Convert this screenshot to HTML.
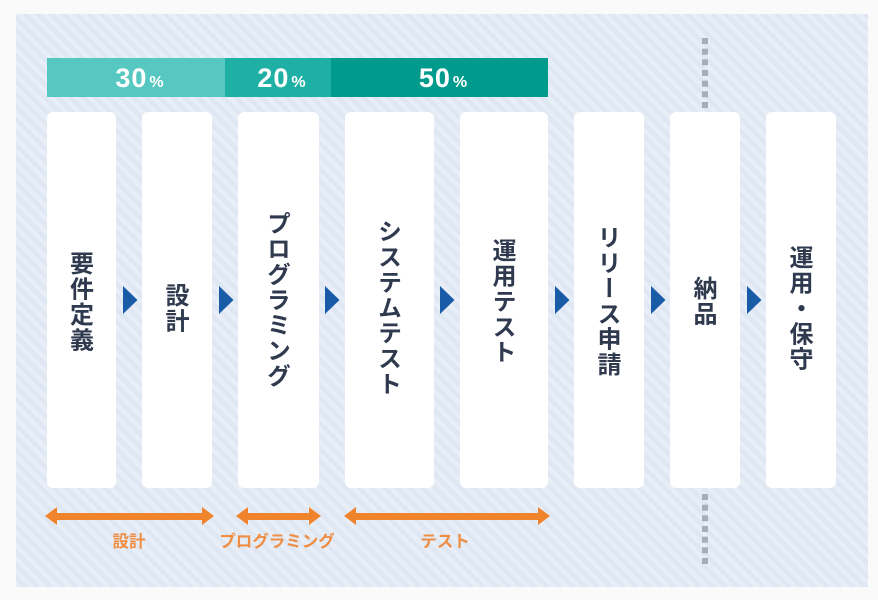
<!DOCTYPE html>
<html lang="ja"><head><meta charset="utf-8"><style>
html,body{margin:0;padding:0;background:#fafafa}
body{width:878px;height:600px;position:relative;overflow:hidden;font-family:"Liberation Sans","Noto Sans CJK JP",sans-serif}
.a{position:absolute}
#panel{left:16px;top:14px;width:852px;height:573px;background:#e6edf7;background-image:repeating-linear-gradient(45deg,#e8eef8 0,#e8eef8 4.5px,#dfe7f2 4.5px,#dfe7f2 9px)}
.bar{top:58px;height:39px;color:#fff;font-weight:700;font-size:27px;line-height:40px;text-align:center;letter-spacing:1px;font-family:"Liberation Sans",sans-serif;box-sizing:border-box;padding-left:7px}
.bar small{font-size:16px;letter-spacing:0;margin-left:2px}
.card{top:112px;height:376px;background:#fff;border-radius:6px;display:flex;align-items:center;justify-content:center}
.card span{position:relative;writing-mode:vertical-rl;text-orientation:upright;font-family:"Noto Sans CJK JP",sans-serif;font-weight:700;font-size:24px;letter-spacing:1.4px;line-height:1;color:#2f3a4f;white-space:nowrap}
.lab{top:530px;height:20px;line-height:20px;font-family:"Noto Sans CJK JP",sans-serif;font-size:16.5px;font-weight:700;color:#ef8d42;text-align:center;white-space:nowrap}
svg{position:absolute;left:0;top:0}
</style></head><body>
<div class="a" id="panel"></div>
<div class="a bar" style="left:47px;width:178px;background:#56c8c1">30<small>%</small></div>
<div class="a bar" style="left:225px;width:106px;background:#1eb0a5">20<small>%</small></div>
<div class="a bar" style="left:331px;width:217px;background:#009b8d">50<small>%</small></div>
<div class="a card" style="left:47px;width:69px"><span style="top:2px">要件定義</span></div>
<div class="a card" style="left:142px;width:70px"><span style="top:8px">設計</span></div>
<div class="a card" style="left:238px;width:81px"><span style="top:0">プログラミング</span></div>
<div class="a card" style="left:345px;width:89px"><span style="top:8px">システムテスト</span></div>
<div class="a card" style="left:460px;width:88px"><span style="top:1px">運用テスト</span></div>
<div class="a card" style="left:574px;width:70px"><span style="top:1px">リリース申請</span></div>
<div class="a card" style="left:670px;width:70px"><span style="top:1px">納品</span></div>
<div class="a card" style="left:766px;width:70px"><span style="top:8px">運用・保守</span></div>
<svg width="878" height="600" viewBox="0 0 878 600">
<g fill="#1a5ba8">
<path d="M123 286L137.500 300L123 314Z"/><path d="M219 286L233.500 300L219 314Z"/><path d="M325 286L339.500 300L325 314Z"/><path d="M440 286L454.500 300L440 314Z"/><path d="M555 286L569.500 300L555 314Z"/><path d="M651 286L665.500 300L651 314Z"/><path d="M747 286L761.500 300L747 314Z"/>
</g>
<g fill="#f0842c">
<path d="M45 516L57 507V513H202V507L214 516L202 525V520H57V525Z"/>
<path d="M236 516L248 507V513H309V507L321 516L309 525V520H248V525Z"/>
<path d="M344 516L356 507V513H538V507L550 516L538 525V520H356V525Z"/>
</g>
<g fill="#a5aebb">
<rect x="702" y="38" width="6" height="6"/><rect x="702" y="48.700" width="6" height="6"/><rect x="702" y="59.300" width="6" height="6"/><rect x="702" y="70" width="6" height="6"/><rect x="702" y="80.700" width="6" height="6"/><rect x="702" y="91.300" width="6" height="6"/><rect x="702" y="102" width="6" height="6"/>
<rect x="702" y="494" width="6" height="6"/><rect x="702" y="504.700" width="6" height="6"/><rect x="702" y="515.300" width="6" height="6"/><rect x="702" y="526" width="6" height="6"/><rect x="702" y="536.700" width="6" height="6"/><rect x="702" y="547.300" width="6" height="6"/><rect x="702" y="558" width="6" height="6"/>
</g>
</svg>
<div class="a lab" style="left:89px;width:80px;">設計</div>
<div class="a lab" style="left:207px;width:140px">プログラミング</div>
<div class="a lab" style="left:405px;width:80px">テスト</div>
</body></html>
